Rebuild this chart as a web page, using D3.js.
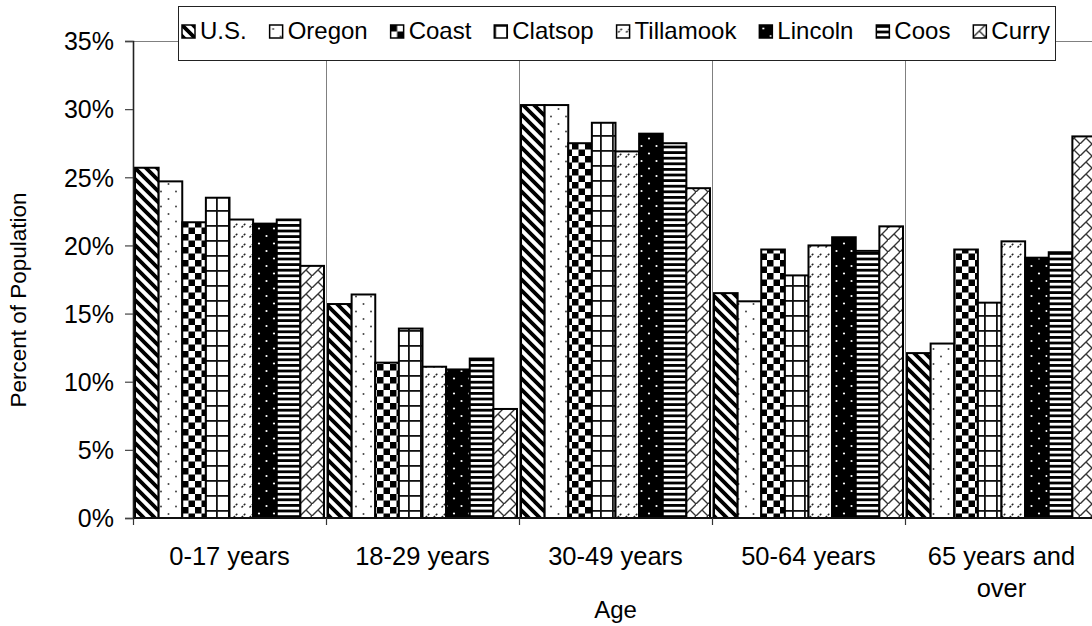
<!DOCTYPE html>
<html>
<head>
<meta charset="utf-8">
<script src="https://cdn.jsdelivr.net/npm/d3@7"></script>
<style>
  body { margin: 0; background: #fff; }
  svg { display: block; font-family: "Liberation Sans", Arial, sans-serif; }
</style>
</head>
<body>
<script>
// Age groups along the x axis
const categories = ["0-17 years", "18-29 years", "30-49 years", "50-64 years", "65 years and over"];

// Areas compared within each age group
const seriesNames = ["U.S.", "Oregon", "Coast", "Clatsop", "Tillamook", "Lincoln", "Coos", "Curry"];

// Percent of population in each age group
const usValues        = [25.7, 15.7, 30.3, 16.5, 12.1];
const oregonValues    = [24.7, 16.4, 30.3, 15.9, 12.8];
const coastValues     = [21.7, 11.4, 27.5, 19.7, 19.7];
const clatsopValues   = [23.5, 13.9, 29.0, 17.8, 15.8];
const tillamookValues = [21.9, 11.1, 26.9, 20.0, 20.3];
const lincolnValues   = [21.6, 10.9, 28.2, 20.6, 19.1];
const coosValues      = [21.9, 11.7, 27.5, 19.6, 19.5];
const curryValues     = [18.5,  8.0, 24.2, 21.4, 28.0];

const seriesValues = [usValues, oregonValues, coastValues, clatsopValues,
                      tillamookValues, lincolnValues, coosValues, curryValues];

// Value axis ticks (percent)
const yTickValues = [0, 5, 10, 15, 20, 25, 30, 35];

const yTitle = "Percent of Population";
const xTitle = "Age";

const W = 1092, H = 626;
const plot = { left: 133, right: 1098, top: 41, bottom: 518 };

const svg = d3.select("body").append("svg")
  .attr("width", W).attr("height", H);

const defs = svg.append("defs");

function addPattern(id, w, h, bg, draw) {
  const p = defs.append("pattern")
    .attr("id", id)
    .attr("patternUnits", "userSpaceOnUse")
    .attr("width", w).attr("height", h);
  p.append("rect").attr("width", w).attr("height", h).attr("fill", bg);
  draw(p, w, h);
}

// Fill patterns, one per area
addPattern("pat-us", 11, 11, "#fff", (p, s) => {
  p.append("path")
    .attr("d", `M-2,-2 L${s + 2},${s + 2} M-2,${s - 2} L2,${s + 2} M${s - 2},-2 L${s + 2},2`)
    .attr("stroke", "#000").attr("stroke-width", 3.8);
});
addPattern("pat-oregon", 15, 15, "#fff", p => {
  p.append("circle").attr("cx", 3.5).attr("cy", 4).attr("r", 1).attr("fill", "#444");
  p.append("circle").attr("cx", 11).attr("cy", 11.5).attr("r", 1).attr("fill", "#444");
});
addPattern("pat-coast", 13, 13, "#fff", p => {
  p.append("rect").attr("x", 0).attr("y", 0).attr("width", 6.5).attr("height", 6.5).attr("fill", "#000");
  p.append("rect").attr("x", 6.5).attr("y", 6.5).attr("width", 6.5).attr("height", 6.5).attr("fill", "#000");
});
addPattern("pat-clatsop", 12, 15, "#fff", p => {
  p.append("rect").attr("x", 0).attr("y", 0).attr("width", 12).attr("height", 1.8).attr("fill", "#111");
  p.append("rect").attr("x", 0).attr("y", 0).attr("width", 1.8).attr("height", 15).attr("fill", "#111");
});
addPattern("pat-tillamook", 8, 10, "#fff", p => {
  p.append("path").attr("d", "M1.5,7.5 L5.5,3.5")
    .attr("stroke", "#222").attr("stroke-width", 1.5).attr("stroke-dasharray", "2.2,1");
});
addPattern("pat-lincoln", 15, 15, "#000", p => {
  p.append("circle").attr("cx", 4).attr("cy", 3.5).attr("r", 1.1).attr("fill", "#fff");
  p.append("circle").attr("cx", 11.5).attr("cy", 11).attr("r", 1.1).attr("fill", "#fff");
});
addPattern("pat-coos", 10, 5.6, "#fff", p => {
  p.append("rect").attr("x", 0).attr("y", 0).attr("width", 10).attr("height", 2.8).attr("fill", "#000");
});
addPattern("pat-curry", 12, 12, "#fff", p => {
  p.append("path").attr("d", "M-1,13 L13,-1 M6,6 L13,13 M-1,-1 L0,0")
    .attr("stroke", "#333").attr("stroke-width", 1.4).attr("fill", "none");
});

const patternIds = ["pat-us", "pat-oregon", "pat-coast", "pat-clatsop",
                    "pat-tillamook", "pat-lincoln", "pat-coos", "pat-curry"];

// Scales
const x0 = d3.scaleBand().domain(categories).range([plot.left, plot.right])
  .paddingInner(0).paddingOuter(0);
const x1 = d3.scaleBand().domain(seriesNames).range([0, x0.bandwidth()])
  .paddingInner(0).paddingOuter(0.085);
const y = d3.scaleLinear().domain([0, 35]).range([plot.bottom, plot.top]);

// Category separators (vertical gridlines)
const boundaries = categories.map(c => x0(c)).concat([plot.right]);
svg.append("g").selectAll("line")
  .data(boundaries.slice(1, -1))
  .join("line")
  .attr("x1", d => d + 0.5).attr("x2", d => d + 0.5)
  .attr("y1", plot.top).attr("y2", plot.bottom)
  .attr("stroke", "#808080").attr("stroke-width", 1);

// Plot area top border
svg.append("line")
  .attr("x1", plot.left - 8).attr("x2", plot.right)
  .attr("y1", plot.top + 0.5).attr("y2", plot.top + 0.5)
  .attr("stroke", "#808080").attr("stroke-width", 1.2);

// Bars
const rows = [];
categories.forEach((c, ci) => {
  seriesNames.forEach((s, si) => rows.push({ cat: c, series: s, si, value: seriesValues[si][ci] }));
});
svg.append("g").selectAll("rect")
  .data(rows)
  .join("rect")
  .attr("x", d => x0(d.cat) + x1(d.series))
  .attr("y", d => y(d.value))
  .attr("width", x1.bandwidth())
  .attr("height", d => plot.bottom - y(d.value))
  .attr("fill", d => `url(#${patternIds[d.si]})`)
  .attr("stroke", "#000")
  .attr("stroke-width", 2);

// Y axis
const yAxis = d3.axisLeft(y).tickValues(yTickValues).tickSize(8).tickPadding(11)
  .tickFormat(d => d + "%");
const gy = svg.append("g").attr("transform", `translate(${plot.left},0)`).call(yAxis);
gy.select(".domain").attr("stroke", "#222").attr("stroke-width", 1.6);
gy.selectAll(".tick line").attr("stroke", "#444").attr("stroke-width", 1.2);
gy.selectAll(".tick text").attr("font-size", 25).attr("fill", "#000")
  .attr("font-family", "Liberation Sans, Arial, sans-serif").attr("dy", "0.35em");

// X axis line and category ticks at group boundaries
svg.append("line")
  .attr("x1", plot.left).attr("x2", plot.right)
  .attr("y1", plot.bottom).attr("y2", plot.bottom)
  .attr("stroke", "#111").attr("stroke-width", 1.8);
svg.append("g").selectAll("line")
  .data(boundaries)
  .join("line")
  .attr("x1", d => d + 0.5).attr("x2", d => d + 0.5)
  .attr("y1", plot.bottom).attr("y2", plot.bottom + 7)
  .attr("stroke", "#333").attr("stroke-width", 1.2);

// Category labels, wrapped to the group width
const labelSize = 25.5, lineHeight = 32;
const xl = svg.append("g").attr("font-size", labelSize).attr("text-anchor", "middle");
categories.forEach(c => {
  const cx = x0(c) + x0.bandwidth() / 2;
  const t = xl.append("text").attr("x", cx).attr("y", 565);
  const words = c.split(" ");
  let line = [];
  let tspan = t.append("tspan").attr("x", cx).attr("dy", 0);
  words.forEach(w => {
    line.push(w);
    tspan.text(line.join(" "));
    if (tspan.node().getComputedTextLength() > x0.bandwidth() - 20 && line.length > 1) {
      line.pop();
      tspan.text(line.join(" "));
      line = [w];
      tspan = t.append("tspan").attr("x", cx).attr("dy", lineHeight).text(w);
    }
  });
});

// Axis titles
svg.append("text")
  .attr("x", (plot.left + plot.right) / 2).attr("y", 618)
  .attr("text-anchor", "middle").attr("font-size", 24)
  .text(xTitle);
svg.append("text")
  .attr("transform", `translate(26,300) rotate(-90)`)
  .attr("text-anchor", "middle").attr("font-size", 22.5)
  .text(yTitle);

// Legend
const legend = svg.append("g");
const legBox = { x: 178, y: 6, w: 877, h: 54 };
legend.append("rect")
  .attr("x", legBox.x + 0.5).attr("y", legBox.y + 0.5)
  .attr("width", legBox.w).attr("height", legBox.h)
  .attr("fill", "#fff").attr("stroke", "#222").attr("stroke-width", 1);

const swatch = 13, swGap = 5, legFont = 24;
const items = legend.selectAll("g.item").data(seriesNames).join("g").attr("class", "item");
items.append("rect")
  .attr("width", swatch).attr("height", swatch)
  .attr("fill", (d, i) => `url(#${patternIds[i]})`)
  .attr("stroke", "#000").attr("stroke-width", 1.5);
items.append("text")
  .attr("x", swatch + swGap).attr("y", swatch + 1)
  .attr("font-size", legFont)
  .text(d => d);
const widths = [];
items.select("text").each(function () { widths.push(this.getComputedTextLength()); });
const startX = 182, endX = 1050;
const used = widths.reduce((a, b) => a + b, 0) + seriesNames.length * (swatch + swGap);
const gap = (endX - startX - used) / (seriesNames.length - 1);
let cursor = startX;
items.attr("transform", (d, i) => {
  const tx = cursor;
  cursor += swatch + swGap + widths[i] + gap;
  return `translate(${tx},${25})`;
});
</script>
</body>
</html>
